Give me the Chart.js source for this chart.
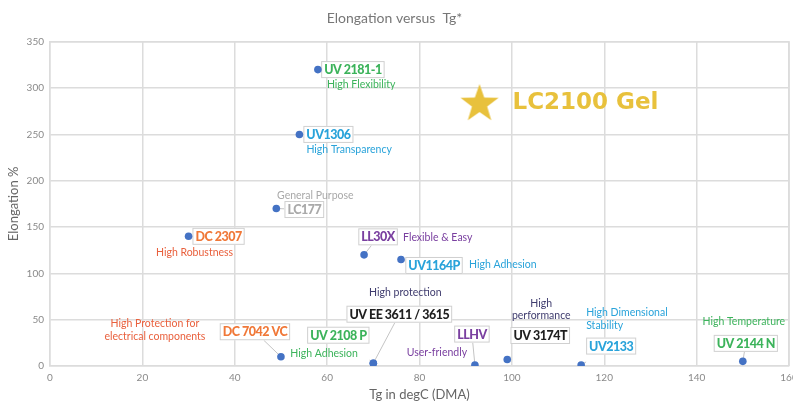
<!DOCTYPE html>
<html>
<head>
<meta charset="utf-8">
<script src="https://cdn.jsdelivr.net/npm/chart.js@4"></script>
<style>
  html, body { margin: 0; padding: 0; background: #fff; }
  #wrap { width: 793px; height: 403px; }
</style>
</head>
<body>
<div id="wrap"><canvas id="chart0" width="793" height="403"></canvas></div>
<script>
// data
const products = ['UV 2181-1', 'UV1306', 'LC177', 'DC 2307', 'LL30X', 'UV1164P', 'DC 7042 VC',
  'UV 2108 P', 'UV EE 3611 / 3615', 'LLHV', 'UV 3174T', 'UV2133', 'UV 2144 N'];
const tg = [58, 54, 49, 30, 68, 76, 50, 70, 70, 92, 99, 115, 150];
const elongation = [320, 250, 170, 140, 120, 115, 10, 3, 3, 1, 7, 1, 5];
const features = ['High Flexibility', 'High Transparency', 'General Purpose', 'High Robustness',
  'Flexible & Easy', 'High Adhesion', 'High Protection for\nelectrical components', 'High Adhesion',
  'High protection', 'User-friendly', 'High\nperformance', 'High Dimensional\nStability', 'High Temperature'];

const starName = 'LC2100 Gel';
const starTg = [93];
const starElongation = [285];

const xTicks = [0, 20, 40, 60, 80, 100, 120, 140, 160];
const yTicks = [0, 50, 100, 150, 200, 250, 300, 350];

// label placement (pixel offsets from the point) and colours
const GREEN = '#3cb35b', BLUE = '#29a3da', GREY = '#a9a9a9', ORANGE = '#f07838',
      RED = '#e9603d', PURPLE = '#7a40a0', NAVY = '#3f3c6e', BLACK = '#1f1f1f';
const callouts = [
  { box: [35, 0],    c: GREEN,  desc: [9, 15],     dc: GREEN,  al: 'left' },
  { box: [29, 0],    c: BLUE,   desc: [7, 15],     dc: BLUE,   al: 'left' },
  { box: [28, 1],    c: GREY,   desc: [39, -13],   dc: GREY,   al: 'center' },
  { box: [30, 0],    c: ORANGE, desc: [6, 16],     dc: RED,    al: 'center' },
  { box: [14, -18],  c: PURPLE, desc: [39, -17],   dc: PURPLE, al: 'left' },
  { box: [33, 6],    c: BLUE,   desc: [68, 5],     dc: BLUE,   al: 'left' },
  { box: [-26, -25], c: ORANGE, desc: [-126, -33], dc: RED,    al: 'center' },
  { box: [-35, -28], c: GREEN,  desc: [-83, -10],  dc: GREEN,  al: 'left' },
  { box: [26, -49],  c: BLACK,  desc: [32, -71],   dc: NAVY,   al: 'center' },
  { box: [-3, -31],  c: PURPLE, desc: [-38, -12],  dc: PURPLE, al: 'center' },
  { box: [33, -24],  c: BLACK,  desc: [34, -56],   dc: NAVY,   al: 'center' },
  { box: [30, -19],  c: BLUE,   desc: [5, -52],    dc: BLUE,   al: 'left' },
  { box: [3, -18],   c: GREEN,  desc: [1, -40],    dc: GREEN,  al: 'center' }
];

const FONT = 'Lato, "Noto Sans", sans-serif';
const GOLD = '#e8c13c';

// filled star used as the point style of the gel
function makeStar(r, color) {
  const c = document.createElement('canvas');
  c.width = c.height = r * 2 + 2;
  const g = c.getContext('2d');
  g.fillStyle = color;
  g.beginPath();
  for (let i = 0; i < 10; i++) {
    const rad = i % 2 === 0 ? r : r * 0.4;
    const a = -Math.PI / 2 + i * Math.PI / 5;
    const px = r + 1 + rad * Math.cos(a), py = r + 1 + rad * Math.sin(a) + r * 0.1;
    i === 0 ? g.moveTo(px, py) : g.lineTo(px, py);
  }
  g.closePath();
  g.fill();
  return c;
}
const starImg = makeStar(20, GOLD);

const calloutPlugin = {
  id: 'callouts',
  beforeDatasetsDraw(chart) {
    const ctx = chart.ctx;
    const meta = chart.getDatasetMeta(0);
    ctx.save();
    meta.data.forEach((pt, i) => {
      const cfg = callouts[i];
      const cx = pt.x + cfg.box[0], cy = pt.y + cfg.box[1];
      ctx.font = '900 12.5px ' + FONT;
      ctx.letterSpacing = '-0.5px';
      const w = ctx.measureText(products[i]).width + 6, h = 17;
      const l = cx - w / 2, t = cy - h / 2, r = cx + w / 2, b = cy + h / 2;
      // leader line from the point towards the box centre, stopped at its edge
      const dx = cx - pt.x, dy = cy - pt.y;
      let tt = 1;
      if (dx !== 0) {
        const tx = dx > 0 ? (l - pt.x) / dx : (r - pt.x) / dx;
        if (tx > 0) tt = Math.min(tt, tx);
      }
      if (dy !== 0) {
        const ty = dy > 0 ? (t - pt.y) / dy : (b - pt.y) / dy;
        if (ty > 0) tt = Math.min(tt, ty);
      }
      let ex = pt.x + dx * tt, ey = pt.y + dy * tt;
      const inX = pt.x >= l && pt.x <= r, inY = pt.y >= t && pt.y <= b;
      if (tt <= 0 || tt >= 1) { ex = Math.min(Math.max(pt.x, l), r); ey = Math.min(Math.max(pt.y, t), b); }
      if (!(inX && inY)) {
        ctx.strokeStyle = '#c4c4c4';
        ctx.lineWidth = 1;
        ctx.beginPath();
        ctx.moveTo(pt.x, pt.y);
        ctx.lineTo(ex, ey);
        ctx.stroke();
      }
      ctx.fillStyle = '#fff';
      ctx.fillRect(l, t, w, h);
      ctx.strokeStyle = '#d0d0d0';
      ctx.strokeRect(l + 0.5, t + 0.5, w - 1, h - 1);
      ctx.fillStyle = cfg.c;
      ctx.textAlign = 'center';
      ctx.textBaseline = 'middle';
      ctx.fillText(products[i], cx, cy + 0.5);
      // feature text
      ctx.letterSpacing = '0px';
      ctx.font = '10.5px ' + FONT;
      ctx.fillStyle = cfg.dc;
      ctx.textAlign = cfg.al;
      features[i].split('\n').forEach((line, k) => {
        ctx.fillText(line, pt.x + cfg.desc[0], pt.y + cfg.desc[1] + k * 12.5);
      });
    });
    ctx.restore();
  },
  afterDatasetsDraw(chart) {
    const ctx = chart.ctx;
    const s = chart.getDatasetMeta(1).data[0];
    ctx.save();
    ctx.font = 'bold 23px "DejaVu Sans", Verdana, sans-serif';
    ctx.fillStyle = GOLD;
    ctx.textAlign = 'left';
    ctx.textBaseline = 'middle';
    ctx.fillText(starName, s.x + 33, s.y + 1);
    ctx.restore();
  }
};

const chart0 = document.getElementById('chart0').getContext('2d');

const myChart0 = new Chart(chart0, {
  type: 'scatter',
  data: {
    datasets: [{
      label: 'Products',
      data: tg.map((x, i) => ({ x: x, y: elongation[i] })),
      backgroundColor: '#4472c4',
      borderWidth: 0,
      pointRadius: 3.8,
      pointHoverRadius: 3.8
    }, {
      label: starName,
      data: starTg.map((x, i) => ({ x: x, y: starElongation[i] })),
      pointStyle: starImg,
      pointRadius: 20
    }]
  },
  options: {
    responsive: false,
    animation: false,
    layout: { autoPadding: false, padding: { right: 4, left: 0, top: 0, bottom: 0 } },
    plugins: {
      legend: { display: false },
      tooltip: { enabled: false },
      title: {
        display: true,
        text: 'Elongation versus  Tg*',
        color: '#777',
        font: { family: FONT, size: 14, weight: 'normal' },
        padding: { top: 10, bottom: 15 }
      }
    },
    scales: {
      x: {
        type: 'linear',
        min: 0,
        max: 160,
        afterBuildTicks: (scale) => { scale.ticks = xTicks.map(v => ({ value: v })); },
        afterFit: (scale) => { scale.height = 37; scale.paddingLeft = 0; scale.paddingRight = 0; },
        grid: { color: '#dcdcdc', lineWidth: 1.5, drawTicks: false },
        border: { color: '#dcdcdc', width: 1.5 },
        ticks: { color: '#8a8a8a', padding: 6, font: { family: FONT, size: 10 }, maxRotation: 0 },
        title: {
          display: true,
          text: 'Tg in degC (DMA)',
          color: '#666',
          font: { family: FONT, size: 13 },
          padding: { top: 0, bottom: 0 }
        }
      },
      y: {
        type: 'linear',
        min: 0,
        max: 350,
        afterBuildTicks: (scale) => { scale.ticks = yTicks.map(v => ({ value: v })); },
        afterFit: (scale) => { scale.width = 50; },
        grid: { color: '#dcdcdc', lineWidth: 1.5, drawTicks: false },
        border: { color: '#dcdcdc', width: 1.5 },
        ticks: { color: '#8a8a8a', padding: 6, font: { family: FONT, size: 10 } },
        title: {
          display: true,
          text: 'Elongation %',
          color: '#666',
          font: { family: FONT, size: 13 },
          padding: { top: 6, bottom: 0 }
        }
      }
    }
  },
  plugins: [calloutPlugin, {
    id: 'rightEdge',
    // top and right frame lines like the original
    afterDraw(chart) {
      const { ctx, chartArea: a } = chart;
      ctx.save();
      ctx.strokeStyle = '#dcdcdc';
      ctx.lineWidth = 1.5;
      ctx.beginPath();
      ctx.moveTo(a.left, a.top); ctx.lineTo(a.right, a.top); ctx.lineTo(a.right, a.bottom);
      ctx.stroke();
      ctx.restore();
    }
  }]
});
</script>
</body>
</html>
